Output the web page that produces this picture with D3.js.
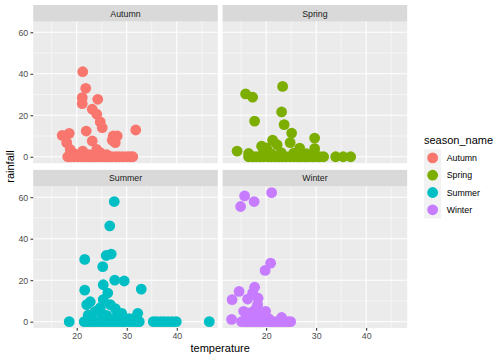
<!DOCTYPE html>
<html><head><meta charset="utf-8">
<script src="https://cdn.jsdelivr.net/npm/d3@7/dist/d3.min.js"></script>
<style>body{margin:0;background:#fff}svg{display:block;font-family:"Liberation Sans",Arial,sans-serif}</style>
</head><body><svg id="c" width="504" height="360"></svg>
<script>
const seasons = ["Autumn","Spring","Summer","Winter"];
const colors = ["#F8766D","#7CAE00","#00BFC4","#C77CFF"];
const xTicks = [20,30,40];
const yTicks = [0,20,40,60];
const xMinor = [15,25,35,45];
const yMinor = [10,30,50];

const autumnTemp = [21.2,21.8,21.1,21.1,24.2,23.1,24,24.7,25.1,21.9,18.5,17.1,18,23.1,27.3,28.1,27.1,27.7,31.8,18.7,21.2,24,24.7,19.5,22.5,26,
  18.2,18.8,19.5,20.2,21,21.6,22.3,23,23.6,24.3,25,25.7,26.4,27,27.8,28.5,29.2,30,30.6,31.2];
const autumnRain = [41,33,28.5,25.6,27.7,22.9,20.5,16.8,14,12.4,11.3,10.3,6.8,7.6,10,10,8,6.8,12.9,3.5,2.7,3.5,2,1.5,1,1,
  0,0,0,0,0,0,0,0,0,0,0,0,0,0,0,0,0,0,0,0];

const springTemp = [23.3,15.9,17.3,23.1,17.7,23.6,25.1,29.7,21.3,22.2,24.8,19.1,20.1,26.7,29.7,14.2,16.5,19.5,21,23,25.5,28,
  16.5,17.3,18,18.8,19.5,20.3,21,21.8,22.5,23.3,24,24.8,25.5,26.3,27,27.8,28.5,29.3,30,30.7,31.5,33.9,35.4,36.9];
const springRain = [33.9,30.3,28.7,21.6,17.2,15.5,11.4,9,8,5.8,6.8,5.1,4.3,4.2,3.9,2.7,1.6,2.5,1.5,2,1.8,1.5,
  0,0,0,0,0,0,0,0,0,0,0,0,0,0,0,0,0,0,0,0,0,0,0,0];

const summerTemp = [27.5,26.6,26.9,25.9,21.6,25.2,27.6,29.5,25.3,32.9,21.6,26.2,22.7,22,25.3,26.7,27.7,24.7,23.7,29,32.2,22.3,18.5,25,26,28,30.5,23,31.8,
  21.5,22.2,23,23.7,24.5,25.2,26,26.7,27.5,28.2,29,29.7,30.5,31.2,32,32.5,35.3,36,36.8,37.5,38.3,39.1,39.9,46.5];
const summerRain = [57.9,46.2,32.6,31.9,30,26.5,20,19.6,17.8,15.7,15.2,13.8,9.6,8.2,10.6,8.2,6.3,6.7,5,4,4,3.2,0,4,3,2.5,1.5,1.5,2,
  0,0,0,0,0,0,0,0,0,0,0,0,0,0,0,0,0,0,0,0,0,0,0,0];

const winterTemp = [21.1,15.7,17.6,14.9,20.9,19.8,17.7,14.6,17.3,13.2,16.3,18.4,18.3,15.5,19.9,16.9,17.9,13.1,23.1,17,18.5,20.5,16,
  15.1,15.8,16.5,17.2,18,18.7,19.4,20.1,20.8,21.5,22.2,23,23.7,24.4,24.9];
const winterRain = [62.2,60.6,57.9,55.5,28.2,24.7,16.6,14.6,13.9,10.6,10.9,11.3,8.2,5,5,4.3,5.9,1.1,2,2.5,3,1.5,1.5,
  0,0,0,0,0,0,0,0,0,0,0,0,0,0,0,0,0];

const temps = [autumnTemp, springTemp, summerTemp, winterTemp];
const rains = [autumnRain, springRain, summerRain, winterRain];

const svg = d3.select("#c");
const panelW = 184.6, panelH = 141.5, stripH = 16.7;
const colX = [33.2, 222.6];
const rowY = [21.7, 186.6]; // panel tops
const xDom = [11.3, 48.2], yDom = [-3.1, 65.1];

seasons.forEach((s, i) => {
  const col = i % 2, row = Math.floor(i / 2);
  const x0 = colX[col], y0 = rowY[row];
  const x = d3.scaleLinear().domain(xDom).range([x0, x0 + panelW]);
  const y = d3.scaleLinear().domain(yDom).range([y0 + panelH, y0]);
  // strip
  svg.append("rect").attr("x", x0).attr("y", y0 - stripH).attr("width", panelW).attr("height", stripH).attr("fill", "#D9D9D9");
  svg.append("text").attr("x", x0 + panelW / 2).attr("y", y0 - stripH / 2 + 3.2).attr("text-anchor", "middle")
    .attr("font-size", 8.8).attr("fill", "#1A1A1A").text(s);
  // panel
  svg.append("rect").attr("x", x0).attr("y", y0).attr("width", panelW).attr("height", panelH).attr("fill", "#EBEBEB");
  const g = svg.append("g");
  xMinor.forEach(t => g.append("line").attr("x1", x(t)).attr("x2", x(t)).attr("y1", y0).attr("y2", y0 + panelH).attr("stroke", "#fff").attr("stroke-width", 0.53));
  yMinor.forEach(t => g.append("line").attr("y1", y(t)).attr("y2", y(t)).attr("x1", x0).attr("x2", x0 + panelW).attr("stroke", "#fff").attr("stroke-width", 0.53));
  xTicks.forEach(t => g.append("line").attr("x1", x(t)).attr("x2", x(t)).attr("y1", y0).attr("y2", y0 + panelH).attr("stroke", "#fff").attr("stroke-width", 1.07));
  yTicks.forEach(t => g.append("line").attr("y1", y(t)).attr("y2", y(t)).attr("x1", x0).attr("x2", x0 + panelW).attr("stroke", "#fff").attr("stroke-width", 1.07));
  // points
  const pts = temps[i].map((t, k) => [t, rains[i][k]]);
  svg.append("g").selectAll("circle").data(pts).join("circle")
    .attr("cx", d => x(d[0])).attr("cy", d => y(d[1])).attr("r", 5.4).attr("fill", colors[i]);
  // axes
  if (col === 0) {
    const ax = svg.append("g").attr("transform", `translate(${x0},0)`)
      .call(d3.axisLeft(y).tickValues(yTicks).tickSize(2.75).tickPadding(2.2));
    ax.select(".domain").remove();
    ax.selectAll("line").attr("stroke", "#333").attr("stroke-width", 1.07);
    ax.selectAll("text").attr("fill", "#4D4D4D").attr("font-size", 8.8).attr("font-family", "Liberation Sans, Arial, sans-serif");
  }
  if (row === 1) {
    const ax = svg.append("g").attr("transform", `translate(0,${y0 + panelH})`)
      .call(d3.axisBottom(x).tickValues(xTicks).tickSize(2.75).tickPadding(2.2));
    ax.select(".domain").remove();
    ax.selectAll("line").attr("stroke", "#333").attr("stroke-width", 1.07);
    ax.selectAll("text").attr("fill", "#4D4D4D").attr("font-size", 8.8).attr("font-family", "Liberation Sans, Arial, sans-serif");
  }
});

// axis titles
svg.append("text").attr("x", (colX[0] + colX[1] + panelW) / 2).attr("y", 352).attr("text-anchor", "middle")
  .attr("font-size", 11).attr("fill", "#000").text("temperature");
svg.append("text").attr("transform", `translate(13.5,${(rowY[0] - stripH + rowY[1] + panelH) / 2}) rotate(-90)`)
  .attr("text-anchor", "middle").attr("font-size", 11).attr("fill", "#000").text("rainfall");

// legend
const lg = svg.append("g").attr("transform", "translate(424,149.3)");
lg.append("text").attr("x", 0).attr("y", -5.5).attr("font-size", 11).attr("fill", "#000").text("season_name");
seasons.forEach((s, i) => {
  lg.append("rect").attr("x", 0).attr("y", i * 17.28).attr("width", 17.28).attr("height", 17.28).attr("fill", "#F2F2F2");
  lg.append("circle").attr("cx", 8.64).attr("cy", i * 17.28 + 8.64).attr("r", 5.4).attr("fill", colors[i]);
  lg.append("text").attr("x", 22.7).attr("y", i * 17.28 + 8.64 + 3.1).attr("font-size", 8.8).attr("fill", "#000").text(s);
});
</script></body></html>
